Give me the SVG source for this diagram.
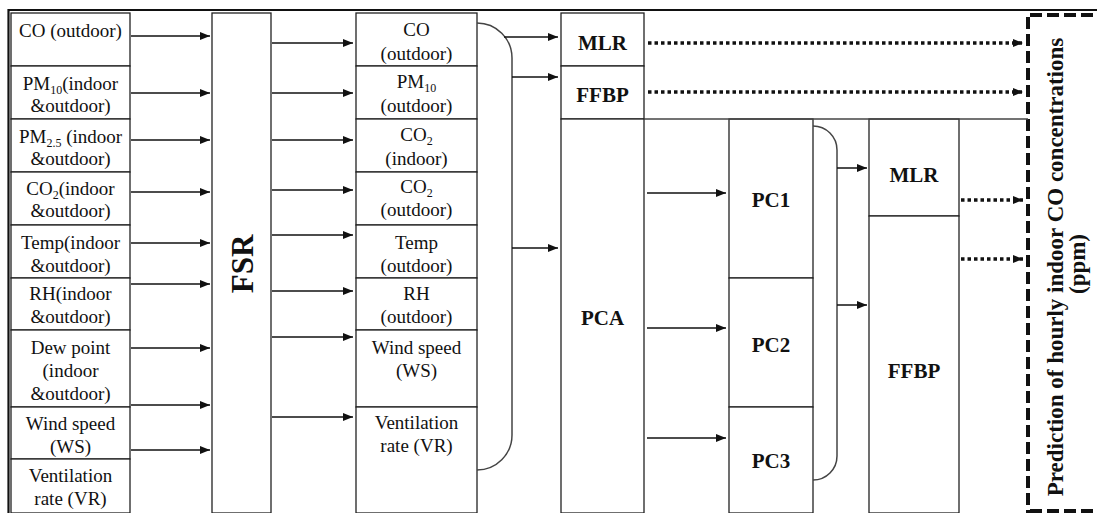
<svg xmlns="http://www.w3.org/2000/svg" width="1097" height="513" viewBox="0 0 1097 513">
<style>
.t{font-family:'Liberation Serif','Times New Roman',Times,'DejaVu Serif',serif;font-size:19px;fill:#111;text-anchor:middle}
.b{font-family:'Liberation Serif','Times New Roman',Times,'DejaVu Serif',serif;font-size:21px;font-weight:bold;fill:#111;text-anchor:middle}
.box{fill:#fff;stroke:#222;stroke-width:1.3}
.sub{font-size:12px}
.arr{stroke:#111;stroke-width:1.5;fill:none;marker-end:url(#ah)}
.dot{stroke:#111;stroke-width:3.5;stroke-dasharray:3.5 3;fill:none;marker-end:url(#ah)}
.br{stroke:#444;stroke-width:1.5;fill:none}
.dash{stroke:#111;stroke-width:4;stroke-dasharray:12 5;fill:none}
</style>
<defs>
<marker id="ah" markerWidth="10" markerHeight="8" refX="10" refY="4" orient="auto" markerUnits="userSpaceOnUse"><path d="M0,0 L10,4 L0,8 z" fill="#111"/></marker>
</defs>
<rect width="1097" height="513" fill="#fff"/>
<g id="frame"><path d="M8.5,513 V10 H1097" stroke="#111" stroke-width="2.2" fill="none"/></g>

<g id="inputs" font-family="Liberation Serif, serif">
<rect class="box" x="11" y="13" width="119" height="53"/>
<text class="t" x="70.5" y="37">CO (outdoor)</text>
<rect class="box" x="11" y="66" width="119" height="53"/>
<text class="t" x="70.5" y="90">PM<tspan class="sub" dy="4">10</tspan><tspan dy="-4">(indoor</tspan></text>
<text class="t" x="70.5" y="112">&amp;outdoor)</text>
<rect class="box" x="11" y="119" width="119" height="53"/>
<text class="t" x="70.5" y="143">PM<tspan class="sub" dy="4">2.5</tspan><tspan dy="-4"> (indoor</tspan></text>
<text class="t" x="70.5" y="165">&amp;outdoor)</text>
<rect class="box" x="11" y="172" width="119" height="53"/>
<text class="t" x="70.5" y="195">CO<tspan class="sub" dy="4">2</tspan><tspan dy="-4">(indoor</tspan></text>
<text class="t" x="70.5" y="217">&amp;outdoor)</text>
<rect class="box" x="11" y="225" width="119" height="53"/>
<text class="t" x="70.5" y="249">Temp(indoor</text>
<text class="t" x="70.5" y="272">&amp;outdoor)</text>
<rect class="box" x="11" y="278" width="119" height="52"/>
<text class="t" x="70.5" y="300">RH(indoor</text>
<text class="t" x="70.5" y="323">&amp;outdoor)</text>
<rect class="box" x="11" y="330" width="119" height="77"/>
<text class="t" x="70.5" y="354">Dew point</text>
<text class="t" x="70.5" y="377">(indoor</text>
<text class="t" x="70.5" y="400">&amp;outdoor)</text>
<rect class="box" x="11" y="407" width="119" height="52"/>
<text class="t" x="70.5" y="430">Wind speed</text>
<text class="t" x="70.5" y="453">(WS)</text>
<rect class="box" x="11" y="459" width="119" height="54"/>
<text class="t" x="70.5" y="482">Ventilation</text>
<text class="t" x="70.5" y="505">rate (VR)</text>
</g>

<g id="fsr">
<rect class="box" x="212" y="13" width="59" height="500"/>
<text class="b" style="font-size:31px" transform="translate(253,264) rotate(-90)">FSR</text>
</g>

<g id="selected">
<rect class="box" x="356" y="13" width="121" height="53"/>
<text class="t" x="416.5" y="36">CO</text>
<text class="t" x="416.5" y="60">(outdoor)</text>
<rect class="box" x="356" y="66" width="121" height="53"/>
<text class="t" x="416.5" y="88">PM<tspan class="sub" dy="4">10</tspan></text>
<text class="t" x="416.5" y="112">(outdoor)</text>
<rect class="box" x="356" y="119" width="121" height="53"/>
<text class="t" x="416.5" y="141">CO<tspan class="sub" dy="4">2</tspan></text>
<text class="t" x="416.5" y="165">(indoor)</text>
<rect class="box" x="356" y="172" width="121" height="53"/>
<text class="t" x="416.5" y="193">CO<tspan class="sub" dy="4">2</tspan></text>
<text class="t" x="416.5" y="216">(outdoor)</text>
<rect class="box" x="356" y="225" width="121" height="53"/>
<text class="t" x="416.5" y="249">Temp</text>
<text class="t" x="416.5" y="272">(outdoor)</text>
<rect class="box" x="356" y="278" width="121" height="52"/>
<text class="t" x="416.5" y="300">RH</text>
<text class="t" x="416.5" y="323">(outdoor)</text>
<rect class="box" x="356" y="330" width="121" height="77"/>
<text class="t" x="416.5" y="354">Wind speed</text>
<text class="t" x="416.5" y="377">(WS)</text>
<rect class="box" x="356" y="407" width="121" height="106"/>
<text class="t" x="416.5" y="429">Ventilation</text>
<text class="t" x="416.5" y="452">rate (VR)</text>
</g>

<g id="mlr1"><rect class="box" x="561" y="13" width="83" height="53"/><text class="b" x="602.5" y="50">MLR</text></g>
<g id="ffbp1"><rect class="box" x="561" y="66" width="83" height="53"/><text class="b" x="602.5" y="102">FFBP</text></g>
<g id="pca"><rect class="box" x="561" y="119" width="83" height="394"/><text class="b" x="602.5" y="325">PCA</text></g>
<g id="pc1"><rect class="box" x="729" y="119" width="84" height="159"/><text class="b" x="771" y="207">PC1</text></g>
<g id="pc2"><rect class="box" x="729" y="278" width="84" height="129"/><text class="b" x="771" y="352">PC2</text></g>
<g id="pc3"><rect class="box" x="729" y="407" width="84" height="106"/><text class="b" x="771" y="468">PC3</text></g>
<g id="mlr2"><rect class="box" x="869" y="119" width="90" height="97"/><text class="b" x="914" y="182">MLR</text></g>
<g id="ffbp2"><rect class="box" x="869" y="216" width="90" height="297"/><text class="b" x="914" y="378">FFBP</text></g>

<g id="output">
<path class="dash" d="M1028,17 V513 M1030,15 H1097 M1030,511 H1097"/>
<text class="b" style="font-size:23px" transform="translate(1063,267) rotate(-90)">Prediction of hourly indoor CO concentrations</text>
<text class="b" style="font-size:23px" transform="translate(1085,264) rotate(-90)">(ppm)</text>
</g>

<g id="connectors">
<line class="arr" x1="131" y1="36" x2="210" y2="36"/>
<line class="arr" x1="131" y1="93" x2="210" y2="93"/>
<line class="arr" x1="131" y1="140" x2="210" y2="140"/>
<line class="arr" x1="131" y1="192" x2="210" y2="192"/>
<line class="arr" x1="131" y1="243" x2="210" y2="243"/>
<line class="arr" x1="131" y1="284" x2="210" y2="284"/>
<line class="arr" x1="131" y1="348" x2="210" y2="348"/>
<line class="arr" x1="131" y1="405" x2="210" y2="405"/>
<line class="arr" x1="131" y1="450" x2="210" y2="450"/>

<line class="arr" x1="272" y1="43" x2="353" y2="43"/>
<line class="arr" x1="272" y1="93" x2="353" y2="93"/>
<line class="arr" x1="272" y1="140" x2="353" y2="140"/>
<line class="arr" x1="272" y1="190" x2="353" y2="190"/>
<line class="arr" x1="272" y1="235" x2="353" y2="235"/>
<line class="arr" x1="272" y1="291" x2="353" y2="291"/>
<line class="arr" x1="272" y1="337" x2="353" y2="337"/>
<line class="arr" x1="272" y1="417" x2="353" y2="417"/>

<path class="br" d="M477,23 A35,35 0 0 1 512,58 L512,435 A35,35 0 0 1 477,470"/>
<line class="arr" x1="504" y1="37" x2="558" y2="37"/>
<line class="arr" x1="512" y1="77" x2="558" y2="77"/>
<line class="arr" x1="512" y1="248" x2="558" y2="248"/>

<line stroke="#444" stroke-width="1.5" x1="644" y1="119" x2="1028" y2="119"/>
<line class="dot" x1="648" y1="43" x2="1023" y2="43"/>
<line class="dot" x1="648" y1="92" x2="1023" y2="92"/>

<line class="arr" x1="647" y1="193" x2="726" y2="193"/>
<line class="arr" x1="647" y1="328" x2="726" y2="328"/>
<line class="arr" x1="647" y1="438" x2="726" y2="438"/>

<path class="br" d="M813,126 A24,24 0 0 1 837,150 L837,456 A24,24 0 0 1 813,480"/>
<line class="arr" x1="837" y1="168" x2="867" y2="168"/>
<line class="arr" x1="837" y1="305" x2="867" y2="305"/>

<line class="dot" x1="961" y1="200" x2="1023" y2="200"/>
<line class="dot" x1="961" y1="259" x2="1023" y2="259"/>
</g>
</svg>
